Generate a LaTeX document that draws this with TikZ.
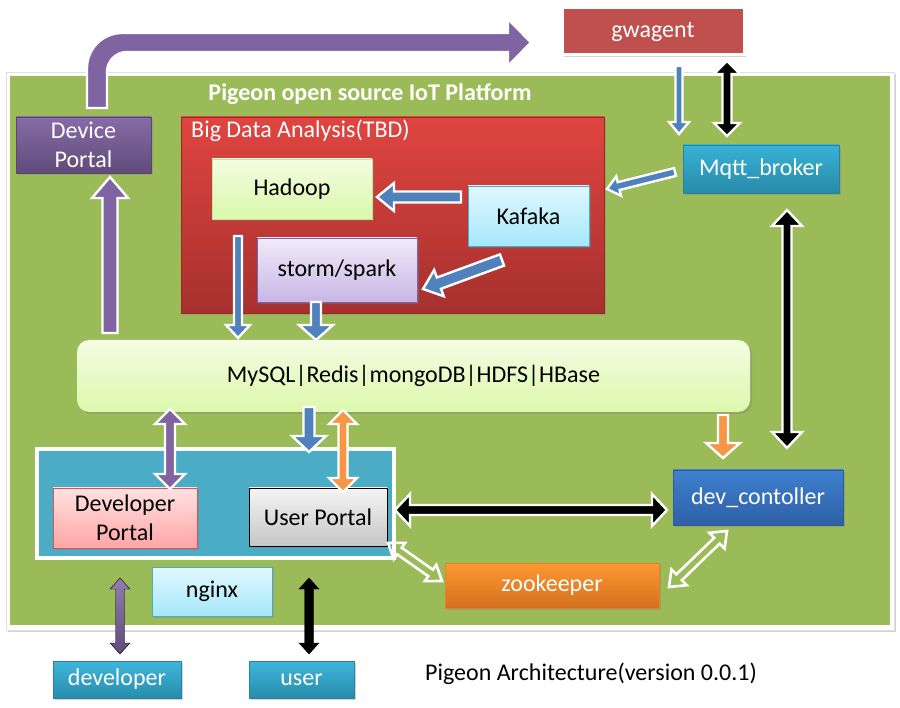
\documentclass[tikz,border=0pt]{standalone}
\usepackage{fontspec}
\setmainfont{Carlito}
\usetikzlibrary{calc,shadows}
\definecolor{plat}{HTML}{9BBB59}
\definecolor{purp}{HTML}{8064A2}
\definecolor{bluA}{HTML}{4F81BD}
\definecolor{oran}{HTML}{F79646}
\definecolor{teal}{HTML}{4BACC6}
\definecolor{gwred}{HTML}{C0504D}
\newcommand\sarrow[6]{%
  \coordinate (hB) at ($(#3)!#6!(#2)$);
  \draw[#1] ($(#2)!#4!90:(#3)$) -- ($(hB)!#4!90:(#3)$) -- ($(hB)!#5!90:(#3)$) -- (#3)
    -- ($(hB)!#5!-90:(#3)$) -- ($(hB)!#4!-90:(#3)$) -- ($(#2)!#4!-90:(#3)$) -- cycle;}
\newcommand\darrow[6]{%
  \coordinate (hA) at ($(#2)!#6!(#3)$);
  \coordinate (hB) at ($(#3)!#6!(#2)$);
  \draw[#1] (#2) -- ($(hA)!#5!90:(#3)$) -- ($(hA)!#4!90:(#3)$) -- ($(hB)!#4!90:(#3)$)
    -- ($(hB)!#5!90:(#3)$) -- (#3) -- ($(hB)!#5!-90:(#3)$) -- ($(hB)!#4!-90:(#3)$)
    -- ($(hA)!#4!-90:(#3)$) -- ($(hA)!#5!-90:(#3)$) -- cycle;}
\tikzset{
  box/.style={rectangle, inner sep=0pt, align=center, font=\fontsize{24}{29}\selectfont},
  shad/.style={drop shadow={shadow xshift=2pt, shadow yshift=-2pt, opacity=0.35}},
  wout/.style={draw=white, line width=2.4pt, line join=miter},
  barb/.style={wout, fill=bluA},
  barp/.style={wout, fill=purp},
  baro/.style={wout, fill=oran},
  bark/.style={wout, fill=black},
  barw/.style={draw=white, line width=2.6pt, line join=miter, fill=none},
}
\begin{document}
\begin{tikzpicture}[x=1pt,y=-1pt]
\useasboundingbox (0,0) rectangle (900,708);
% platform
\fill[white, shad, draw=gray!25] (6,72) rectangle (894,630);
\fill[plat] (10,76) rectangle (890,625);
\node[box, font=\fontsize{24}{29}\selectfont\bfseries, text=white] (title) at (370,94) {Pigeon open source IoT Platform};
% curved purple arrow
\draw[barp] (87,108) -- (87,68) arc[start angle=180, end angle=90, radius=35pt] -- (508,33) -- (508,19) -- (531,42.5) -- (508,66) -- (508,52) -- (127,52) arc[start angle=90, end angle=180, radius=20pt] -- (107,108) -- cycle;
% nodes
\node[box, shad, draw=white, line width=3pt, fill=gwred, text=white, minimum width=182, minimum height=47] (gw) at (653,31.5) {gwagent};
\node[box, shad, top color=purp!95!white, bottom color=purp!75!black, draw=purp!70!black, text=white, minimum width=135, minimum height=56] (dp) at (83.5,145) {Device\\Portal};
\node[box, shad, top color={rgb,255:red,224;green,69;blue,64}, bottom color={rgb,255:red,166;green,48;blue,46}, draw={rgb,255:red,150;green,40;blue,38}, minimum width=423, minimum height=196] (bd) at (392.5,215) {};
\node[box, text=white, anchor=west] (bdl) at (191,131) {Big Data Analysis(TBD)};
\node[box, shad, top color={rgb,255:red,242;green,252;blue,226}, bottom color={rgb,255:red,218;green,248;blue,170}, draw={rgb,255:red,200;green,225;blue,150}, minimum width=160, minimum height=60] (hd) at (292,189) {Hadoop};
\node[box, shad, top color={rgb,255:red,240;green,235;blue,248}, bottom color={rgb,255:red,200;green,182;blue,230}, draw={rgb,255:red,120;green,100;blue,170}, minimum width=160, minimum height=64] (st) at (337,270) {storm/spark};
\node[box, shad, top color={rgb,255:red,225;green,247;blue,254}, bottom color={rgb,255:red,165;green,232;blue,251}, draw=teal, minimum width=121, minimum height=60] (kf) at (528.5,216) {Kafaka};
\node[box, shad, top color={rgb,255:red,56;green,178;blue,214}, bottom color={rgb,255:red,40;green,138;blue,168}, draw={rgb,255:red,40;green,130;blue,160}, text=white, minimum width=156, minimum height=48] (mq) at (761,169) {Mqtt\_broker};
\node[box, shad, rounded corners=12pt, top color={rgb,255:red,242;green,252;blue,226}, bottom color={rgb,255:red,220;green,248;blue,172}, minimum width=673, minimum height=72] (db) at (413.5,376) {MySQL|Redis|mongoDB|HDFS|HBase};
\node[box, shad, fill=teal, draw=white, line width=3.5pt, minimum width=357, minimum height=109] (ct) at (215.5,503.5) {};
\node[box, shad, top color={rgb,255:red,255;green,225;blue,225}, bottom color={rgb,255:red,255;green,165;blue,165}, draw={rgb,255:red,225;green,80;blue,80}, minimum width=144, minimum height=60] (dvp) at (125,518) {Developer\\Portal};
\node[box, shad, top color=gray!8, bottom color=gray!45, draw=black, minimum width=138, minimum height=58] (up) at (318,517) {User Portal};
\node[box, shad, top color={rgb,255:red,225;green,247;blue,254}, bottom color={rgb,255:red,165;green,232;blue,251}, draw=teal, minimum width=120, minimum height=49] (ng) at (212,591.5) {nginx};
\node[box, shad, top color={rgb,255:red,62;green,128;blue,207}, bottom color={rgb,255:red,46;green,96;blue,165}, draw={rgb,255:red,46;green,90;blue,160}, text=white, minimum width=170, minimum height=55] (dc) at (758,497.5) {dev\_contoller};
\node[box, shad, top color={rgb,255:red,255;green,152;blue,50}, bottom color={rgb,255:red,210;green,112;blue,30}, draw={rgb,255:red,230;green,130;blue,40}, text=white, minimum width=214, minimum height=45] (zk) at (552,585.5) {zookeeper};
\node[box, shad, top color={rgb,255:red,62;green,182;blue,218}, bottom color={rgb,255:red,40;green,140;blue,172}, draw={rgb,255:red,40;green,130;blue,160}, text=white, minimum width=128, minimum height=37] (dev) at (117,679.5) {developer};
\node[box, shad, top color={rgb,255:red,62;green,182;blue,218}, bottom color={rgb,255:red,40;green,140;blue,172}, draw={rgb,255:red,40;green,130;blue,160}, text=white, minimum width=105, minimum height=37] (us) at (301.5,679.5) {user};
\node[box] (cap) at (591,674) {Pigeon Architecture(version 0.0.1)};
% arrow end points
\coordinate (a1s) at (679,66);   \coordinate (a1e) at (679,134);
\coordinate (a2s) at (727,61);   \coordinate (a2e) at (727,136);
\coordinate (a3s) at (675,172);  \coordinate (a3e) at (607,189);
\coordinate (a4s) at (461,197);  \coordinate (a4e) at (377,197);
\coordinate (a5s) at (502,260);  \coordinate (a5e) at (423,289);
\coordinate (a6s) at (238,236);  \coordinate (a6e) at (238,338);
\coordinate (a7s) at (316,302);  \coordinate (a7e) at (316,340);
\coordinate (a8s) at (110,333);  \coordinate (a8e) at (110,177);
\coordinate (a9s) at (170,409);  \coordinate (a9e) at (170,489);
\coordinate (b1s) at (309,407);  \coordinate (b1e) at (309,452);
\coordinate (b2s) at (343,410);  \coordinate (b2e) at (343,492);
\coordinate (b3s) at (723,415);  \coordinate (b3e) at (723,458);
\coordinate (b4s) at (787,210);  \coordinate (b4e) at (787,448);
\coordinate (b5s) at (395,510);  \coordinate (b5e) at (667,510);
\coordinate (b6s) at (388,543);  \coordinate (b6e) at (442,581);
\coordinate (b7s) at (727,531);  \coordinate (b7e) at (669,587);
\coordinate (b8s) at (120,578);  \coordinate (b8e) at (120,654);
\coordinate (b9s) at (309,578);  \coordinate (b9e) at (309,654);
% arrows
\sarrow{barb}{a1s}{a1e}{3.5pt}{10pt}{12pt}
\darrow{bark}{a2s}{a2e}{4.5pt}{13pt}{13pt}
\sarrow{barb}{a3s}{a3e}{4pt}{10pt}{12pt}
\sarrow{barb}{a4s}{a4e}{5.5pt}{14pt}{17pt}
\sarrow{barb}{a5s}{a5e}{6pt}{14pt}{17pt}
\sarrow{barb}{a6s}{a6e}{4pt}{12pt}{13pt}
\sarrow{barb}{a7s}{a7e}{5pt}{17pt}{15pt}
\sarrow{barp}{a8s}{a8e}{7.5pt}{18pt}{21pt}
\darrow{barp}{a9s}{a9e}{5pt}{15pt}{15pt}
\sarrow{barb}{b1s}{b1e}{5.5pt}{17pt}{16pt}
\darrow{baro}{b2s}{b2e}{4.5pt}{14pt}{14pt}
\sarrow{baro}{b3s}{b3e}{5pt}{17pt}{15pt}
\darrow{bark}{b4s}{b4e}{4.5pt}{15pt}{16pt}
\darrow{bark}{b5s}{b5e}{5pt}{16pt}{15pt}
\darrow{barw}{b6s}{b6e}{4pt}{10pt}{14pt}
\darrow{barw}{b7s}{b7e}{4pt}{11pt}{14pt}
\darrow{top color=purp!85!white, bottom color=purp!75!black}{b8s}{b8e}{4.5pt}{10pt}{11pt}
\darrow{fill=black}{b9s}{b9e}{4.5pt}{10pt}{11pt}
\end{tikzpicture}
\end{document}
